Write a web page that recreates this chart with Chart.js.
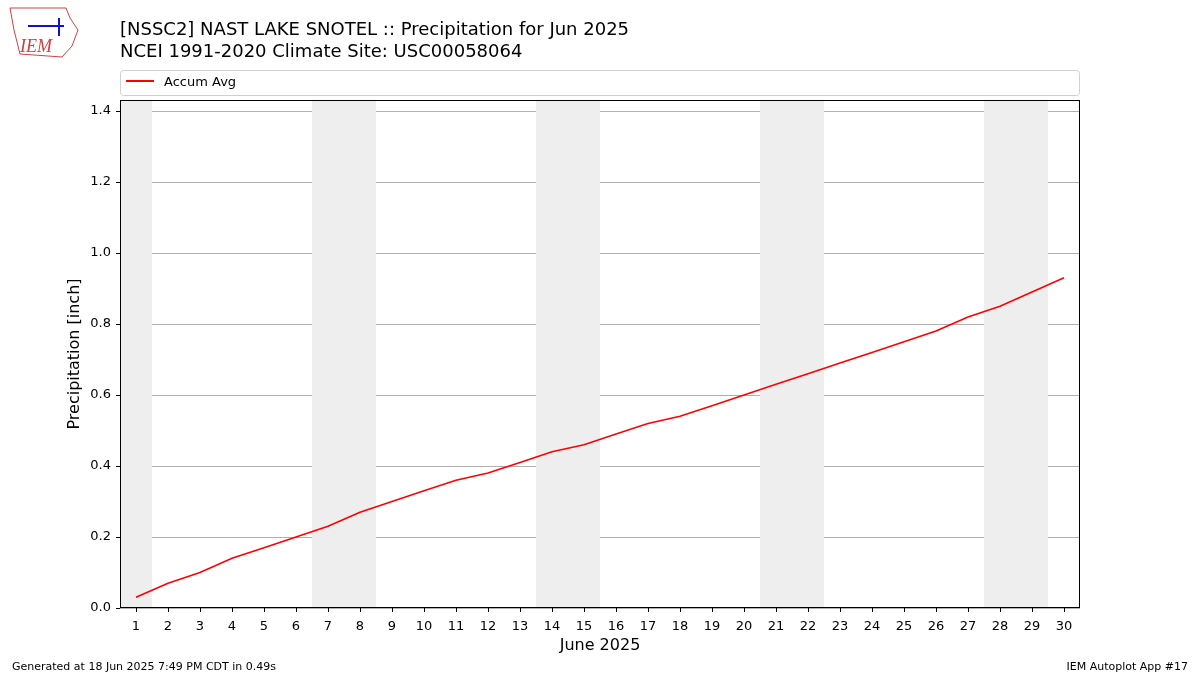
<!DOCTYPE html>
<html><head><meta charset="utf-8">
<script src="https://cdn.jsdelivr.net/npm/chart.js@4"></script>
<style>html,body{margin:0;padding:0;background:#fff}canvas{display:block}</style>
</head><body>
<div style="width:1200px;height:675px;position:relative"><canvas id="c" width="1200" height="675"></canvas></div>
<script>
const days = Array.from({length:30},(_,i)=>i+1);
const accumAvg = [0.03,0.07,0.10,0.14,0.17,0.20,0.23,0.27,0.30,0.33,0.36,0.38,0.41,0.44,0.46,0.49,0.52,0.54,0.57,0.60,0.63,0.66,0.69,0.72,0.75,0.78,0.82,0.85,0.89,0.93];
const weekendRanges = [[0.5,1.5],[6.5,8.5],[13.5,15.5],[20.5,22.5],[27.5,29.5]];
const yTicks = [0,0.2,0.4,0.6,0.8,1.0,1.2,1.4];
const titleLines = ["[NSSC2] NAST LAKE SNOTEL :: Precipitation for Jun 2025","NCEI 1991-2020 Climate Site: USC00058064"];
const seriesName = "Accum Avg";
const xTitle = "June 2025";
const yTitle = "Precipitation [inch]";
const footLeft = "Generated at 18 Jun 2025 7:49 PM CDT in 0.49s";
const footRight = "IEM Autoplot App #17";
const F = "DejaVu Sans";

const deco = {
  id:'deco',
  beforeDatasetsDraw(ch){
    const {ctx,chartArea:a,scales:{x}}=ch;
    ctx.save();ctx.fillStyle='#eeeeee';
    weekendRanges.forEach(([s,e])=>{const l=x.getPixelForValue(s),r=x.getPixelForValue(e);ctx.fillRect(l,a.top,r-l,a.bottom-a.top);});
    ctx.restore();
  },
  afterDraw(ch){
    const {ctx,chartArea:a,scales:{x,y}}=ch;
    ctx.save();
    ctx.strokeStyle='#000';ctx.lineWidth=1;ctx.strokeRect(a.left+0.5,a.top+0.5,a.right-a.left-1,a.bottom-a.top-1);
    ctx.beginPath();
    days.forEach(d=>{const px=Math.round(x.getPixelForValue(d))+0.5;ctx.moveTo(px,a.bottom);ctx.lineTo(px,a.bottom+4);});
    yTicks.forEach(v=>{const py=Math.round(y.getPixelForValue(v))+0.5;ctx.moveTo(a.left,py);ctx.lineTo(a.left-4,py);});
    ctx.stroke();
    ctx.fillStyle='#000';ctx.textBaseline='alphabetic';
    ctx.font='18px "'+F+'"';
    ctx.fillText(titleLines[0],120,35);ctx.fillText(titleLines[1],120,57);
    ctx.font='16px "'+F+'"';ctx.textAlign='center';
    ctx.fillText(xTitle,(a.left+a.right)/2,650);
    ctx.save();ctx.translate(79,(a.top+a.bottom)/2);ctx.rotate(-Math.PI/2);ctx.fillText(yTitle,0,0);ctx.restore();
    ctx.textAlign='left';
    ctx.strokeStyle='#d0d0d0';ctx.lineWidth=1;
    ctx.beginPath();ctx.roundRect(120.5,70.5,959,25,3);ctx.stroke();
    ctx.strokeStyle='red';ctx.lineWidth=2;ctx.beginPath();ctx.moveTo(126,81);ctx.lineTo(154,81);ctx.stroke();
    ctx.font='13px "'+F+'"';ctx.fillText(seriesName,164,86);
    ctx.font='11px "'+F+'"';ctx.fillText(footLeft,12,670);
    ctx.textAlign='right';ctx.fillText(footRight,1188,670);ctx.textAlign='left';
    ctx.strokeStyle='#d04040';ctx.lineWidth=1;
    ctx.beginPath();ctx.moveTo(10,8);ctx.lineTo(66,8);ctx.lineTo(70,18);ctx.lineTo(78,30);ctx.lineTo(72,46);ctx.lineTo(62,57);ctx.lineTo(20,54);ctx.lineTo(14,30);ctx.closePath();ctx.stroke();
    ctx.fillStyle='#1010d0';ctx.fillRect(28,25,36,2);ctx.fillRect(58,18,2,18);
    ctx.fillStyle='#d04040';ctx.font='italic 18px "Liberation Serif"';ctx.fillText('IEM',20,52);
    ctx.restore();
  }
};

new Chart(document.getElementById('c'),{
  type:'line',
  data:{datasets:[{label:seriesName,data:days.map((d,i)=>({x:d,y:accumAvg[i]})),borderColor:'red',borderWidth:1.6,pointRadius:0,fill:false,tension:0}]},
  options:{
    responsive:false,animation:false,
    layout:{padding:{top:100,right:120,left:0,bottom:0}},
    plugins:{legend:{display:false},tooltip:{enabled:false}},
    scales:{
      x:{type:'linear',min:0.5,max:30.5,afterFit:s=>{s.height=67;},
        afterBuildTicks:s=>{s.ticks=days.map(v=>({value:v}));},
        grid:{display:false},border:{display:false},
        ticks:{color:'#000',font:{family:F,size:13},padding:3}},
      y:{min:0,max:1.431,afterFit:s=>{s.width=120;},
        afterBuildTicks:s=>{s.ticks=yTicks.map(v=>({value:v}));},
        grid:{color:'#b0b0b0',drawTicks:false},border:{display:false},
        ticks:{color:'#000',font:{family:F,size:13},padding:9,callback:v=>v.toFixed(1)}}
    }
  },
  plugins:[deco]
});
</script></body></html>
